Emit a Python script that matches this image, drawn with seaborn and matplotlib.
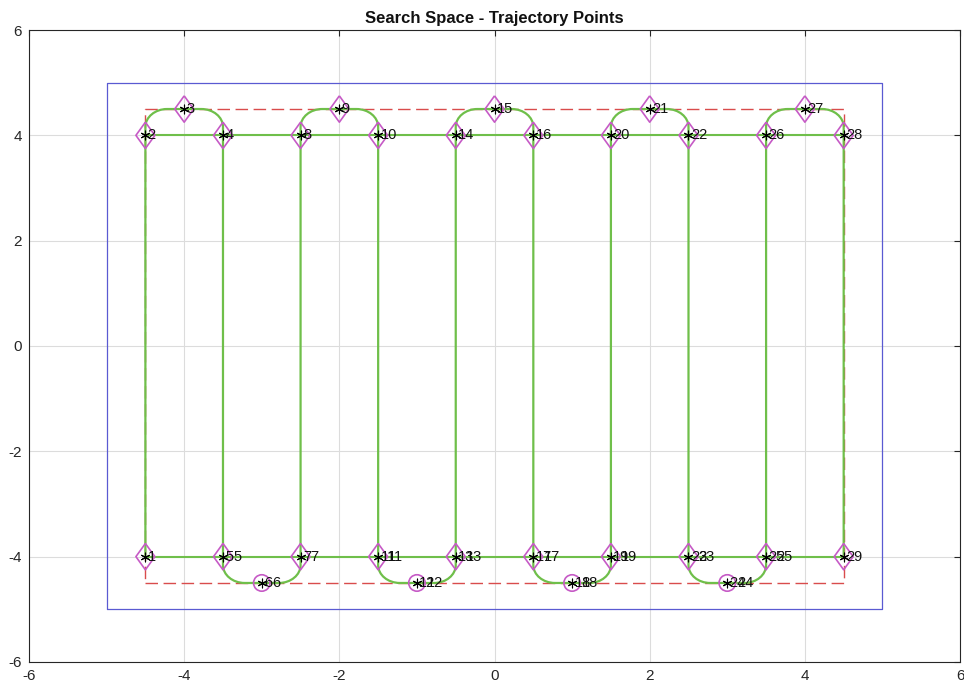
import matplotlib
matplotlib.use("Agg")
import matplotlib.pyplot as plt
from matplotlib.path import Path
from matplotlib.patches import PathPatch
import pandas as pd
import seaborn as sns

# Waypoints in visiting order (indices 1..29)
point_x = [-4.5, -4.5, -4.0, -3.5, -3.5, -3.0, -2.5, -2.5, -2.0, -1.5,
           -1.5, -1.0, -0.5, -0.5, 0.0, 0.5, 0.5, 1.0, 1.5, 1.5,
           2.0, 2.5, 2.5, 3.0, 3.5, 3.5, 4.0, 4.5, 4.5]
point_y = [-4.0, 4.0, 4.5, 4.0, -4.0, -4.5, -4.0, 4.0, 4.5, 4.0,
           -4.0, -4.5, -4.0, 4.0, 4.5, 4.0, -4.0, -4.5, -4.0, 4.0,
           4.5, 4.0, -4.0, -4.5, -4.0, 4.0, 4.5, 4.0, -4.0]
point_ids = list(range(1, 30))

# Lower turn apexes drawn with circles instead of diamonds
circle_ids = [6, 12, 18, 24]
# Lower turn waypoints that carry a second index tag
double_tag_ids = [5, 6, 7, 11, 12, 13, 17, 18, 19, 23, 24, 25]

# Search-space boundary and inner coverage limit
outer_x = [-5, 5, 5, -5, -5]
outer_y = [-5, -5, 5, 5, -5]
inner_x = [-4.5, 4.5, 4.5, -4.5, -4.5]
inner_y = [-4.5, -4.5, 4.5, 4.5, -4.5]

# Straight rails joining the sweep ends
rail_x = [-4.5, 4.5]
rail_levels = [4.0, -4.0]

ticks = [-6, -4, -2, 0, 2, 4, 6]
title = "Search Space - Trajectory Points"

GREEN = "#6fbf4a"
MAGENTA = "#c65ac6"
BLUE = "#5a5ad2"
RED = "#d94c4c"

# Hollow diamond a bit wider than matplotlib's thin diamond
DIAMOND = [(0, 1), (0.72, 0), (0, -1), (-0.72, 0), (0, 1)]

sns.set_style("white")
plt.rcParams["font.family"] = ["Liberation Sans", "DejaVu Sans"]

fig = plt.figure(figsize=(9.64, 6.92), dpi=100)
ax = fig.add_axes([0.0301, 0.0434, 0.9658, 0.9132])

pts = pd.DataFrame({"x": point_x, "y": point_y, "id": point_ids})

# Boundaries
sns.lineplot(x=outer_x, y=outer_y, sort=False, estimator=None, color=BLUE,
             lw=0.9, ax=ax, zorder=2)
sns.lineplot(x=inner_x, y=inner_y, sort=False, estimator=None, color=RED,
             lw=1.0, linestyle=(0, (9, 4)), ax=ax, zorder=2)

# Rails along the sweep ends
for level in rail_levels:
    sns.lineplot(x=rail_x, y=[level, level], sort=False, estimator=None,
                 color=GREEN, lw=1.5, ax=ax, zorder=3)


def sweep_path(xs, ys, rx, ry):
    """Boustrophedon path through the waypoints with rounded turn corners."""
    k = 0.5523
    verts = [(xs[0], ys[0])]
    codes = [Path.MOVETO]
    for i in range(1, len(xs) - 1):
        if abs(ys[i]) <= abs(ys[i - 1]):
            continue
        bx, cx, ay = xs[i - 1], xs[i + 1], ys[i]
        s = 1 if ay > 0 else -1
        verts += [(bx, ay - s * ry)]
        codes += [Path.LINETO]
        verts += [(bx, ay - s * ry * (1 - k)), (bx + rx * (1 - k), ay), (bx + rx, ay)]
        codes += [Path.CURVE4] * 3
        verts += [(cx - rx, ay)]
        codes += [Path.LINETO]
        verts += [(cx - rx * (1 - k), ay), (cx, ay - s * ry * (1 - k)), (cx, ay - s * ry)]
        codes += [Path.CURVE4] * 3
    verts.append((xs[-1], ys[-1]))
    codes.append(Path.LINETO)
    return Path(verts, codes)


ax.add_patch(PathPatch(sweep_path(point_x, point_y, 0.28, 0.34), fill=False,
                       ec=GREEN, lw=1.6, zorder=3))

# Waypoint markers
diamonds = pts[~pts["id"].isin(circle_ids)]
circles = pts[pts["id"].isin(circle_ids)]
sns.scatterplot(data=diamonds, x="x", y="y", marker=DIAMOND, s=360,
                facecolors="none", edgecolor=MAGENTA, linewidth=1.2,
                ax=ax, zorder=4)
sns.scatterplot(data=circles, x="x", y="y", marker="o", s=140,
                facecolors="none", edgecolor=MAGENTA, linewidth=1.2,
                ax=ax, zorder=4)
sns.scatterplot(data=pts, x="x", y="y", marker=(6, 2, 0), s=40,
                color="black", edgecolor="black", linewidth=0.8,
                ax=ax, zorder=5)

# Index tags
for x, y, i in zip(point_x, point_y, point_ids):
    ax.text(x + 0.03, y, str(i), ha="left", va="center", fontsize=10.5,
            color="#111111", zorder=6)
    if i in double_tag_ids:
        ax.text(x + 0.13, y, str(i), ha="left", va="center", fontsize=10.5,
                color="#111111", zorder=6)

ax.set_xlim(-6, 6)
ax.set_ylim(-6, 6)
ax.set_xticks(ticks)
ax.set_yticks(ticks)
ax.set_xticklabels([str(t) for t in ticks])
ax.set_yticklabels([str(t) for t in ticks])
ax.set_xlabel("")
ax.set_ylabel("")
ax.grid(True, color="#dcdcdc", lw=0.8, zorder=0)
ax.set_axisbelow(True)
ax.tick_params(direction="in", length=4, width=0.8, top=True, right=True,
               labelsize=11, colors="#262626", pad=5)
for sp in ax.spines.values():
    sp.set_color("#262626")
    sp.set_linewidth(0.8)
    sp.set_visible(True)

ax.set_title(title, fontsize=12, fontweight="bold", pad=5, color="#111111")

fig.savefig("out.png", dpi=100)
